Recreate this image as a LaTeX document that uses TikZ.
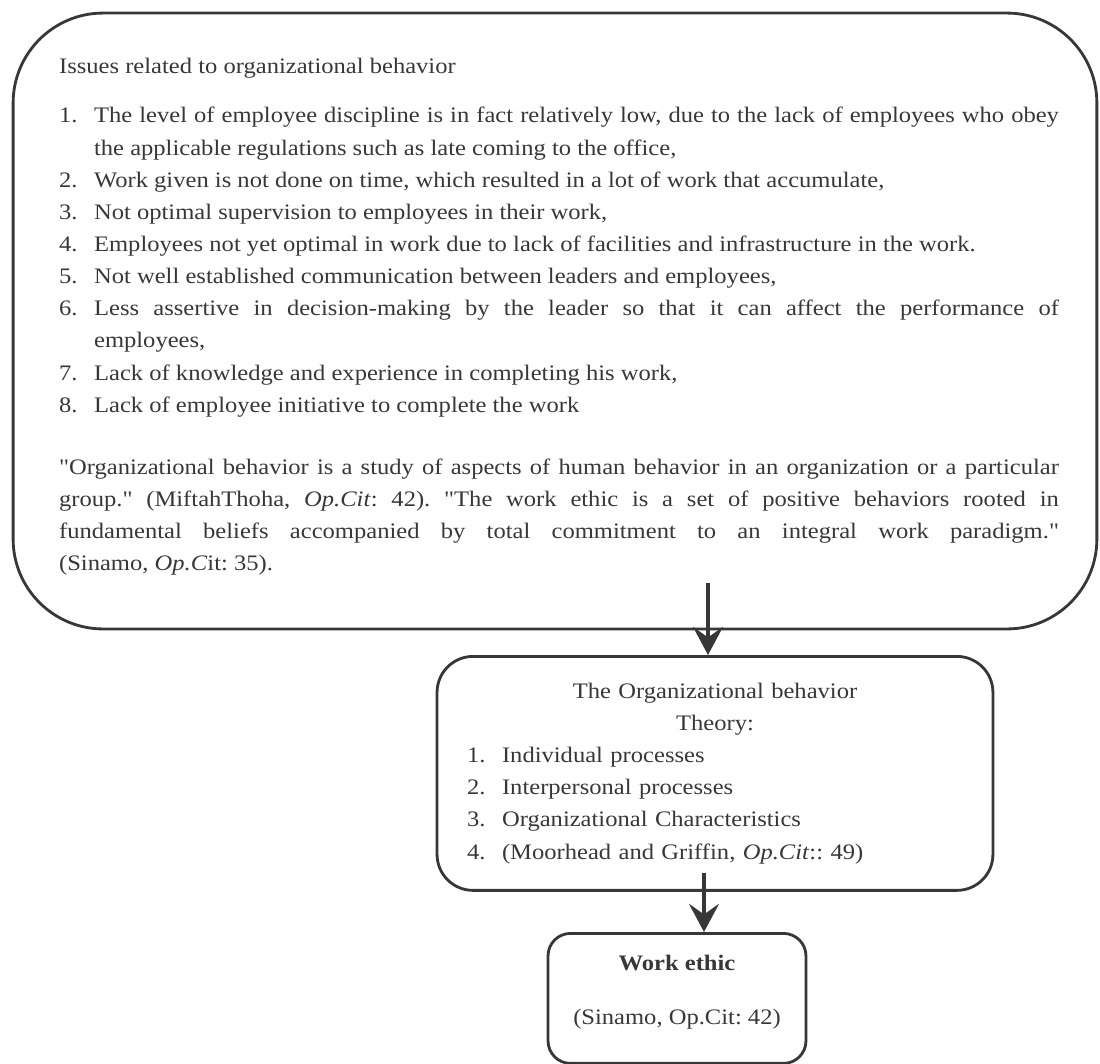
\documentclass[tikz,border=0pt]{standalone}
\usepackage{fontspec}
\setmainfont{Liberation Serif}[FakeStretch=1.11,Ligatures=TeXOff]
\usetikzlibrary{positioning,arrows.meta}
\definecolor{InkGray}{RGB}{55,55,55}
\newcommand{\issueitem}[2]{\par\noindent\hangindent=0.7cm\hangafter=1\makebox[0.7cm][l]{#1.}#2}
\newcommand{\theoryitem}[2]{\par\noindent\hangindent=0.7cm\hangafter=1\makebox[0.7cm][l]{#1.}#2}
\frenchspacing
\tikzset{
  bigbox/.style={draw=InkGray,line width=1.6pt,rounded corners=1.8cm,inner sep=0pt,
    minimum width=21.68cm,minimum height=12.32cm,text width=20.16cm,align=justify,
    text=InkGray,font=\fontsize{12.6}{18.3}\selectfont},
  theorybox/.style={draw=InkGray,line width=1.6pt,rounded corners=0.72cm,inner xsep=0.6cm,
    minimum width=11.12cm,minimum height=4.68cm,text width=9.92cm,align=left,
    text=InkGray,font=\fontsize{12.6}{18.3}\selectfont},
  ethicbox/.style={draw=InkGray,line width=1.6pt,rounded corners=0.45cm,
    minimum width=5.16cm,minimum height=2.6cm,text depth=0.33cm,align=center,
    text=InkGray,font=\fontsize{12.6}{18.3}\selectfont},
  flow/.style={draw=InkGray,line width=2.2pt,-{Stealth[length=16pt,width=17pt,inset=6pt]}},
}

\begin{document}
\begin{tikzpicture}[x=0.02cm,y=-0.02cm]
\useasboundingbox (0,0) rectangle (1100,1063);
\node[bigbox] (issues) at (555,321) {%
\leftskip=0.16cm
\noindent Issues related to organizational behavior\par\vspace{10pt}
\issueitem{1}{The level of employee discipline is in fact relatively low, due to the lack of employees who obey\linebreak the applicable regulations such as late coming to the office,}
\issueitem{2}{Work given is not done on time, which resulted in a lot of work that accumulate,}
\issueitem{3}{Not optimal supervision to employees in their work,}
\issueitem{4}{Employees not yet optimal in work due to lack of facilities and infrastructure in the work.}
\issueitem{5}{Not well established communication between leaders and employees,}
\issueitem{6}{Less assertive in decision-making by the leader so that it can affect the performance of\linebreak employees,}
\issueitem{7}{Lack of knowledge and experience in completing his work,}
\issueitem{8}{Lack of employee initiative to complete the work}
\par\vspace{17pt}
\noindent"Organizational behavior is a study of aspects of human behavior in an organization or a particular\linebreak group." (MiftahThoha, \textit{Op.Cit}: 42). "The work ethic is a set of positive behaviors rooted in\linebreak fundamental beliefs accompanied by total commitment to an integral work paradigm."\linebreak (Sinamo, \textit{Op.C}it: 35).\par\vspace{5pt}};
\node[theorybox,anchor=north] (theory) at (715,655) {%
{\centering The Organizational behavior\\Theory:\par}
\theoryitem{1}{Individual processes}
\theoryitem{2}{Interpersonal processes}
\theoryitem{3}{Organizational Characteristics}
\theoryitem{4}{(Moorhead and Griffin, \textit{Op.Cit}:: 49)}\par};
\node[ethicbox,anchor=north] (ethic) at (677,932) {\textbf{Work ethic}\\[12.5pt](Sinamo, Op.Cit: 42)};
\coordinate (a1) at (708,583);
\coordinate (a2) at (704,873);
\draw[flow] (a1) -- (a1 |- theory.north);
\draw[flow] (a2) -- (a2 |- ethic.north);
\end{tikzpicture}
\end{document}
